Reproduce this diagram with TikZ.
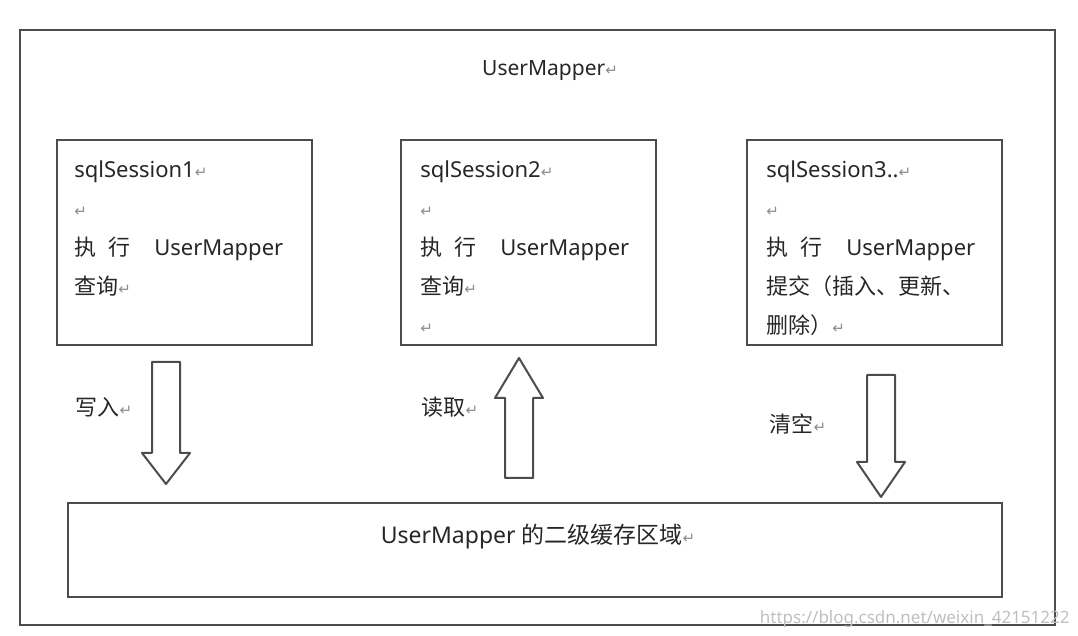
\documentclass[tikz,border=0pt]{standalone}
\usepackage{fontspec}
\setmainfont{Noto Sans}
\newfontfamily\cjk{Noto Sans CJK SC}
\newfontfamily\sym{DejaVu Sans}
\usetikzlibrary{positioning}
\newcommand\ret{{\sym\color{black!45}\fontsize{7.5}{7.5}\selectfont ↵}}
\newcommand\zhixing{{\cjk 执\hspace{6pt}行}\hspace{12pt}UserMapper}
\tikzset{
  frame/.style={draw=black!70,line width=1.1pt},
  sessbox/.style={frame,minimum width=127.5pt,minimum height=102.5pt,inner sep=0pt},
  sesstext/.style={anchor=north west,inner sep=0pt,align=left,text=black!85,
    font=\fontsize{11}{19.6}\selectfont},
  lbl/.style={text=black!85,font=\cjk\fontsize{11}{13}\selectfont,inner sep=0pt},
  blk/.style={draw=black!70,line width=1pt,line join=round,fill=white}
}
\begin{document}
\begin{tikzpicture}[x=0.5pt,y=-0.5pt]
\useasboundingbox (0,0) rectangle (1078,636);
% outer frame and title
\node[frame,minimum width=517.5pt,minimum height=297.5pt,inner sep=0pt] (mapper) at (537.5,327.5) {};
\node[text=black!85,font=\fontsize{10.5}{12}\selectfont,inner sep=0pt] (title) at (550,71) {UserMapper\ret};
% sessions
\node[sessbox] (s1) at (184.5,242.5) {};
\node[sessbox] (s2) at (528.5,242.5) {};
\node[sessbox] (s3) at (874.5,242.5) {};
\node[sesstext] (t1) at ([shift={(18,21)}]s1.north west)
  {sqlSession1\ret\\ \ret\\ \zhixing\\ {\cjk 查询}\ret};
\node[sesstext] (t2) at ([shift={(20,21)}]s2.north west)
  {sqlSession2\ret\\ \ret\\ \zhixing\\ {\cjk 查询}\ret\\ \ret};
\node[sesstext] (t3) at ([shift={(20,21)}]s3.north west)
  {sqlSession3..\ret\\ \ret\\ \zhixing\\ {\cjk 提交（插入、更新、}\\ {\cjk 删除）}\ret};
% second level cache
\node[frame,minimum width=467pt,minimum height=47pt,inner sep=0pt] (cache) at (535,550) {};
\node[text=black!85,font=\fontsize{11.5}{13}\selectfont,inner sep=0pt] (ctext) at (538,537)
  {UserMapper {\cjk 的二级缓存区域}\ret};
% block arrows
\foreach \x/\ya/\yb/\yc in {166/362/453/484,519/478/398/358,881/375/462/497}
  \draw[blk] (\x-14,\ya)--(\x-14,\yb)--(\x-24,\yb)--(\x,\yc)--(\x+24,\yb)--(\x+14,\yb)--(\x+14,\ya)--cycle;
\node[lbl] (write) at (104,407) {写入\ret};
\node[lbl] (read) at (450,407) {读取\ret};
\node[lbl] (clear) at (798,424) {清空\ret};
% watermark
\node[text=black!25,font=\fontsize{8.5}{10}\selectfont,inner sep=0pt,anchor=east] (wm) at (1070,619)
  {https://blog.csdn.net/weixin\_42151222};
\end{tikzpicture}
\end{document}
